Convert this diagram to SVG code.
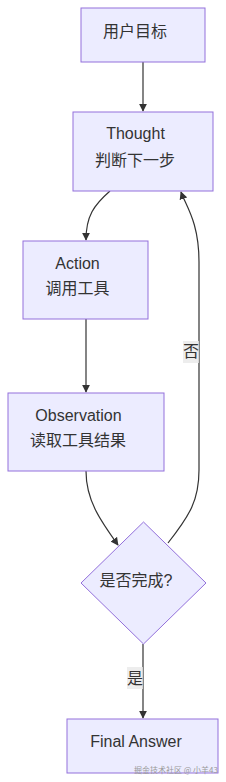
<svg xmlns="http://www.w3.org/2000/svg" width="226" height="782" viewBox="0 0 226 782">
<defs>
<marker id="arr" viewBox="0 0 10 10" refX="9" refY="5" markerWidth="8" markerHeight="8" markerUnits="userSpaceOnUse" orient="auto">
<path d="M0,0 L10,5 L0,10 z" fill="#333333"/>
</marker>
<style>
.node rect, .node polygon { fill: #ECECFF; stroke: #9370DB; stroke-width: 1; }
.node text { font-family: "Liberation Sans", "Noto Sans CJK SC", sans-serif; font-size: 16px; fill: #333333; text-anchor: middle; }
.edges path { fill: none; stroke: #333333; stroke-width: 1.2; marker-end: url(#arr); }
.lbl rect { fill: #E8E8E8; opacity: 0.8; }
.lbl text { font-family: "Liberation Sans", "Noto Sans CJK SC", sans-serif; font-size: 16px; fill: #333333; text-anchor: middle; }
.wm { font-family: "Noto Sans CJK SC", sans-serif; font-size: 8px; fill: #999999; text-anchor: end; }
</style>
</defs>
<rect width="226" height="782" fill="#ffffff"/>
<g class="edges">
<path d="M143,62 L143,111"/>
<path d="M110,191 C94,205 86,216 86,240"/>
<path d="M86,319 L86,392"/>
<path d="M86,471 C86,500 100,520 118,545"/>
<path d="M168,543 C190,515 199,500 199,470 L199,262 C199,222 186,206 181,192"/>
<path d="M143,644 L143,718"/>
</g>
<g class="lbl" id="label-no">
<rect x="183" y="341" width="16" height="22"/>
<text x="191" y="357">否</text>
</g>
<g class="lbl" id="label-yes">
<rect x="127" y="667" width="16" height="22"/>
<text x="135" y="684">是</text>
</g>
<g class="node" id="goal">
<rect x="81" y="8" width="124" height="54"/>
<text x="135" y="37">用户目标</text>
</g>
<g class="node" id="thought">
<rect x="73" y="112" width="140" height="79"/>
<text x="135.5" y="139">Thought</text>
<text x="135" y="166">判断下一步</text>
</g>
<g class="node" id="action">
<rect x="23" y="241" width="125" height="78"/>
<text x="77.5" y="269">Action</text>
<text x="77.5" y="294">调用工具</text>
</g>
<g class="node" id="observation">
<rect x="8" y="393" width="156" height="78"/>
<text x="78.5" y="421">Observation</text>
<text x="78" y="446">读取工具结果</text>
</g>
<g class="node" id="done">
<polygon points="143.5,522 206,583 143.5,644 81,583"/>
<text x="136" y="586">是否完成?</text>
</g>
<g class="node" id="final">
<rect x="67" y="719" width="151" height="54"/>
<text x="136" y="747">Final Answer</text>
</g>
<text class="wm" x="218" y="773">掘金技术社区 @ 小羊43</text>
</svg>
